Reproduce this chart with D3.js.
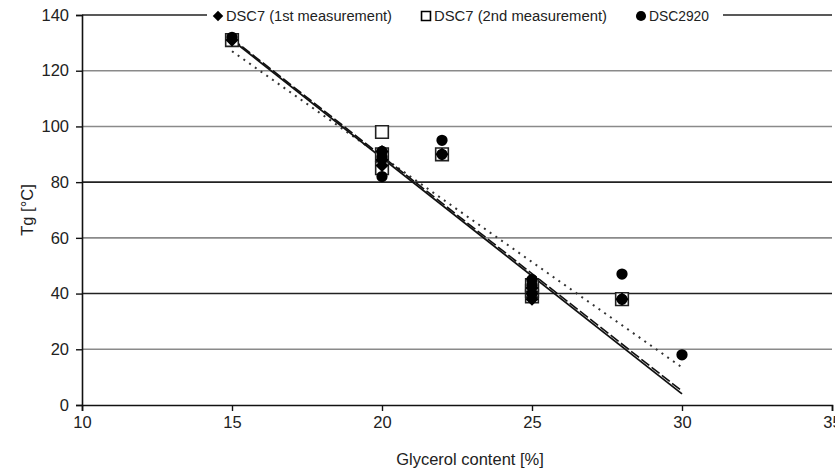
<!DOCTYPE html>
<html><head><meta charset="utf-8">
<script src="https://cdn.jsdelivr.net/npm/d3@7"></script>
<style>body{margin:0;background:#fff}svg{font-family:"Liberation Sans",Arial,sans-serif}</style>
</head><body><svg id="c" width="835" height="474"></svg>
<script>
// Data
const xTicks = [10, 15, 20, 25, 30, 35];
const yTicks = [0, 20, 40, 60, 80, 100, 120, 140];
const dsc7FirstX = [15, 20, 20, 20, 22, 25, 25, 25, 28];
const dsc7FirstY = [131, 91, 88, 86, 90, 38, 40, 42, 38];
const dsc7SecondX = [15, 20, 20, 20, 22, 25, 25, 25, 28];
const dsc7SecondY = [131, 98, 90, 85, 90, 39, 41, 43, 38];
const dsc2920X = [15, 20, 20, 20, 22, 22, 25, 25, 25, 28, 28, 30];
const dsc2920Y = [132, 91, 89, 82, 95, 90, 40, 43, 45, 47, 38, 18];
const trendSolidX = [15, 30];
const trendSolidY = [131, 4];
const trendDashX = [15, 30];
const trendDashY = [131.5, 5];
const trendDotX = [15, 30];
const trendDotY = [127, 13.5];
const legendLabels = ["DSC7 (1st measurement)", "DSC7 (2nd measurement)", "DSC2920"];

const svg = d3.select("#c");
const x = d3.scaleLinear().domain([10, 35]).range([82, 832]);
const y = d3.scaleLinear().domain([0, 140]).range([405, 15]);

// gridlines
const dark = new Set([140, 80, 40, 0]);
svg.append("g").selectAll("line").data(yTicks.filter(d => d > 0)).join("line")
  .attr("x1", x(10)).attr("x2", x(35))
  .attr("y1", d => y(d)).attr("y2", d => y(d))
  .attr("stroke", d => dark.has(d) ? "#222" : "#8a8a8a")
  .attr("stroke-width", 1.6);

// axes
const xAxis = svg.append("g").attr("transform", `translate(0,${y(0)})`)
  .call(d3.axisBottom(x).tickValues(xTicks).tickSize(6).tickPadding(5).tickFormat(d3.format("d")));
const yAxis = svg.append("g").attr("transform", `translate(${x(10)},0)`)
  .call(d3.axisLeft(y).tickValues(yTicks).tickSize(6).tickPadding(7).tickFormat(d3.format("d")));
[xAxis, yAxis].forEach(a => {
  a.select(".domain").attr("stroke", "#111").attr("stroke-width", 1.6);
  a.selectAll(".tick line").attr("stroke", "#111").attr("stroke-width", 1.4);
  a.selectAll("text").attr("font-size", 16.5).attr("fill", "#222").attr("font-family", "Liberation Sans, Arial, sans-serif");
});

// axis titles
svg.append("text").attr("x", 470).attr("y", 465).attr("text-anchor", "middle")
  .attr("font-size", 16.5).attr("fill", "#222").text("Glycerol content [%]");
svg.append("text").attr("transform", `translate(33,${y(70)}) rotate(-90)`).attr("text-anchor", "middle")
  .attr("font-size", 16.5).attr("fill", "#222").text("Tg [°C]");

// trend lines
const line = d3.line().x(d => x(d[0])).y(d => y(d[1]));
svg.append("path").attr("d", line(d3.zip(trendDotX, trendDotY)))
  .attr("fill", "none").attr("stroke", "#333").attr("stroke-width", 2).attr("stroke-dasharray", "2,5");
svg.append("path").attr("d", line(d3.zip(trendDashX, trendDashY)))
  .attr("fill", "none").attr("stroke", "#111").attr("stroke-width", 1.6).attr("stroke-dasharray", "10,3");
svg.append("path").attr("d", line(d3.zip(trendSolidX, trendSolidY)))
  .attr("fill", "none").attr("stroke", "#111").attr("stroke-width", 1.8);

// markers
const sqSym = d3.symbol().type(d3.symbolSquare).size(160);
const diaSym = d3.symbol().type(d3.symbolDiamond2).size(110);
const cirSym = d3.symbol().type(d3.symbolCircle).size(100);
svg.append("g").selectAll("path").data(d3.zip(dsc7SecondX, dsc7SecondY)).join("path")
  .attr("d", sqSym).attr("transform", d => `translate(${x(d[0])},${y(d[1])})`)
  .attr("fill", "#fff").attr("stroke", "#222").attr("stroke-width", 1.6);
svg.append("g").selectAll("path").data(d3.zip(dsc7FirstX, dsc7FirstY)).join("path")
  .attr("d", diaSym).attr("transform", d => `translate(${x(d[0])},${y(d[1])})`)
  .attr("fill", "#000");
svg.append("g").selectAll("path").data(d3.zip(dsc2920X, dsc2920Y)).join("path")
  .attr("d", cirSym).attr("transform", d => `translate(${x(d[0])},${y(d[1])})`)
  .attr("fill", "#000");

// legend
const lg = svg.append("g");
lg.append("rect").attr("x", 207).attr("y", 6).attr("width", 516).attr("height", 22).attr("fill", "#fff");
const legX = [218, 426, 641];
const legW = [166, 173, 60];
legendLabels.forEach((t, i) => {
  const sym = i === 0 ? d3.symbol().type(d3.symbolDiamond2).size(70)
            : i === 1 ? d3.symbol().type(d3.symbolSquare).size(80)
            : d3.symbol().type(d3.symbolCircle).size(80);
  lg.append("path").attr("d", sym).attr("transform", `translate(${legX[i]},${y(140) + 1})`)
    .attr("fill", i === 1 ? "#fff" : "#000").attr("stroke", i === 1 ? "#000" : "none").attr("stroke-width", 1.6);
  lg.append("text").attr("x", legX[i] + 8).attr("y", y(140) + 6).attr("font-size", 14)
    .attr("textLength", legW[i]).attr("lengthAdjust", "spacingAndGlyphs")
    .attr("fill", "#222").text(t);
});
</script></body></html>
